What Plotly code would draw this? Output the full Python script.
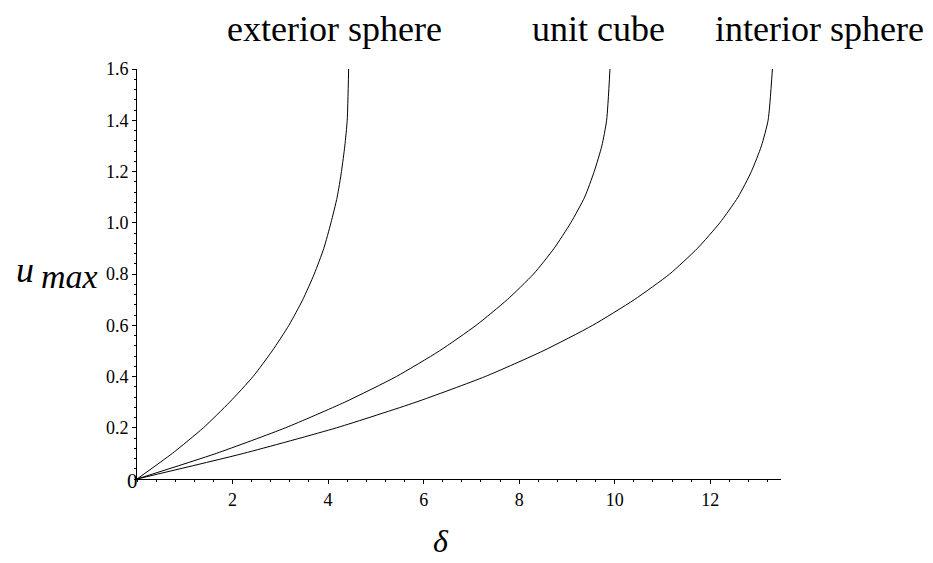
import plotly.graph_objects as go

# u_max values shared by the three curves
u_max = [0, 0.1, 0.2, 0.3, 0.4, 0.5, 0.6, 0.7, 0.8, 0.9, 1.0, 1.1, 1.2, 1.3, 1.4, 1.6]

# delta values for each domain
delta_exterior = [0, 0.74, 1.39, 1.94, 2.43, 2.83, 3.18, 3.47, 3.71, 3.91, 4.06, 4.19, 4.28, 4.35, 4.40, 4.43]
delta_cube = [0, 1.66, 3.11, 4.35, 5.43, 6.33, 7.10, 7.75, 8.30, 8.73, 9.08, 9.37, 9.57, 9.73, 9.83, 9.90]
delta_interior = [0, 2.23, 4.18, 5.84, 7.29, 8.50, 9.54, 10.41, 11.15, 11.73, 12.20, 12.58, 12.86, 13.07, 13.21, 13.30]

curve_labels = ["exterior sphere", "unit cube", "interior sphere"]
label_centres = [326, 590, 811]
x_ticks = [2, 4, 6, 8, 10, 12]
y_ticks = [0.2, 0.4, 0.6, 0.8, 1.0, 1.2, 1.4, 1.6]

W, H = 933, 563
L, R, T, B = 129, 160, 61, 92

# pixel position -> paper coordinates
def px(x):
	return (x - L) / (W - L - R)

def py(y):
	return (H - B - y) / (H - T - B)

SERIF = "Liberation Serif, Times New Roman, serif"

fig = go.Figure()

for xs in [delta_exterior, delta_cube, delta_interior]:
	fig.add_trace(go.Scatter(x=xs, y=u_max, mode="lines",
		line=dict(color="black", width=1, shape="spline", smoothing=0.6),
		showlegend=False))

fig.update_layout(
	width=W, height=H,
	margin=dict(l=L, r=R, t=T, b=B),
	plot_bgcolor="white", paper_bgcolor="white",
	font=dict(family=SERIF, color="black", size=17),
)

fig.update_xaxes(range=[0, 13.48], showgrid=False, zeroline=False,
	showline=True, linecolor="black", linewidth=1,
	tickmode="array", tickvals=x_ticks, ticks="outside", ticklen=4,
	tickcolor="black", tickfont=dict(family=SERIF, size=18),
	minor=dict(dtick=0.4, tick0=0, ticks="outside", ticklen=2, tickcolor="black"))

fig.update_yaxes(range=[0, 1.6], showgrid=False, zeroline=False,
	showline=True, linecolor="black", linewidth=1,
	tickmode="array", tickvals=y_ticks, tickformat=".1f",
	ticks="outside", ticklen=4, tickcolor="black",
	tickfont=dict(family=SERIF, size=18),
	minor=dict(dtick=0.04, tick0=0, ticks="outside", ticklen=2, tickcolor="black"))

annos = []

# curve names along the top
for text, cx in zip(curve_labels, label_centres):
	annos.append(dict(text=text, x=px(cx), y=py(21), xref="paper", yref="paper",
		xanchor="center", yanchor="middle", showarrow=False,
		font=dict(family=SERIF, size=36)))

# shared zero at the origin
annos.append(dict(text="0", x=px(124), y=py(473), xref="paper", yref="paper",
	xanchor="center", yanchor="middle", showarrow=False,
	font=dict(family=SERIF, size=21)))

# axis titles
annos.append(dict(text="<i>δ</i>", x=px(433), y=py(533), xref="paper", yref="paper",
	xanchor="center", yanchor="middle", showarrow=False,
	font=dict(family=SERIF, size=32)))
annos.append(dict(text="<i>u</i>", x=px(6), y=py(262), xref="paper", yref="paper",
	xanchor="left", yanchor="middle", showarrow=False,
	font=dict(family=SERIF, size=36)))
annos.append(dict(text="<i>max</i>", x=px(31), y=py(268), xref="paper", yref="paper",
	xanchor="left", yanchor="middle", showarrow=False,
	font=dict(family=SERIF, size=34)))

fig.update_layout(annotations=annos)

fig.write_html("out.html")
